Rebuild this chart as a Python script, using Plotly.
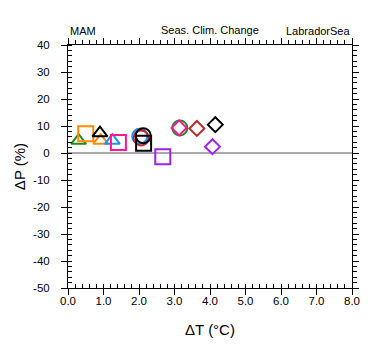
import plotly.graph_objects as go

# ---- data ----
green_x = [0.30, 3.15]
green_y = [4.6, 9.3]
green_sym = ["triangle-up-open", "circle-open"]

orange_x = [0.50, 0.92]
orange_y = [7.1, 4.6]
orange_sym = ["square-open", "triangle-up-open"]

blue_x = [1.25, 2.02]
blue_y = [4.6, 6.2]
blue_sym = ["triangle-up-open", "circle-open"]

red_x = [2.06, 3.63]
red_y = [5.6, 9.1]
red_sym = ["circle-open", "diamond-open"]

pink_x = [1.42, 3.13]
pink_y = [3.9, 9.3]
pink_sym = ["square-open", "diamond-open"]

purple_x = [2.67, 4.07]
purple_y = [-1.4, 2.35]
purple_sym = ["square-open", "diamond-open"]

black_x = [0.90, 2.12, 2.13, 4.15]
black_y = [7.4, 6.4, 3.6, 10.5]
black_sym = ["triangle-up-open", "circle-open", "square-open", "diamond-open"]

x_ticks = [0, 1, 2, 3, 4, 5, 6, 7, 8]
y_ticks = [-50, -40, -30, -20, -10, 0, 10, 20, 30, 40]

# ---- styles ----
sym_size = {"triangle-up-open": 13, "circle-open": 15, "square-open": 15, "diamond-open": 11.5}
FONT = "Liberation Sans, Arial, Helvetica, sans-serif"

series = [
    ("green", green_x, green_y, green_sym, "#228B22"),
    ("orange", orange_x, orange_y, orange_sym, "#FF8C00"),
    ("blue", blue_x, blue_y, blue_sym, "#1E90FF"),
    ("red", red_x, red_y, red_sym, "#C02828"),
    ("pink", pink_x, pink_y, pink_sym, "#FF1493"),
    ("purple", purple_x, purple_y, purple_sym, "#A020F0"),
    ("black", black_x, black_y, black_sym, "#000000"),
]

fig = go.Figure()
for name, xs, ys, syms, col in series:
    fig.add_trace(go.Scatter(
        x=xs, y=ys, mode="markers", name=name, showlegend=False, opacity=1,
        marker=dict(symbol=syms, size=[sym_size[s] for s in syms], opacity=1,
                    color=col, line=dict(color=col, width=2)),
        hoverinfo="skip",
    ))

# dummy traces so overlay axes are drawn
fig.add_trace(go.Scatter(x=[], y=[], xaxis="x2", yaxis="y2", showlegend=False))
fig.add_trace(go.Scatter(x=[], y=[], xaxis="x3", yaxis="y3", showlegend=False))

common_x = dict(range=[0, 8], showgrid=False, zeroline=False, automargin=False)
common_y = dict(range=[-50, 40], showgrid=False, automargin=False)

fig.update_layout(
    width=380, height=355,
    margin=dict(l=68, r=28, t=45, b=67, autoexpand=False),
    paper_bgcolor="white", plot_bgcolor="white",
    font=dict(family=FONT, size=11, color="black"),
    xaxis=dict(
        **common_x, tickmode="array", tickvals=x_ticks,
        ticktext=[f"{v:.1f}" for v in x_ticks],
        ticks="inside", ticklen=3, tickwidth=1, tickcolor="black",
        showline=True, linecolor="black", linewidth=1,
        minor=dict(ticks="inside", dtick=0.2, tick0=0, ticklen=4, tickcolor="black", showgrid=False),
        tickfont=dict(size=11.5), ticklabelstandoff=2,
        title=dict(text="ΔT (°C)", font=dict(size=15), standoff=18),
    ),
    xaxis2=dict(
        **common_x, overlaying="x", side="top", dtick=1, tick0=0,
        ticks="outside", ticklen=6, tickcolor="black", showticklabels=False,
        showline=True, linecolor="black", linewidth=1,
        minor=dict(ticks="outside", dtick=0.2, tick0=0, ticklen=4, tickcolor="black", showgrid=False),
    ),
    xaxis3=dict(
        **common_x, overlaying="x", side="bottom", dtick=1, tick0=0,
        ticks="outside", ticklen=6, tickcolor="black", showticklabels=False,
        showline=False,
    ),
    yaxis=dict(
        **common_y, tickmode="array", tickvals=y_ticks,
        ticktext=[str(v) for v in y_ticks],
        ticks="outside", ticklen=6, tickwidth=1, tickcolor="black",
        showline=True, linecolor="black", linewidth=1,
        zeroline=True, zerolinecolor="#AAAAAA", zerolinewidth=1.5,
        minor=dict(ticks="inside", dtick=2, tick0=0, ticklen=4, tickcolor="black", showgrid=False),
        tickfont=dict(size=11.5), ticklabelstandoff=9,
        title=dict(text="ΔP (%)", font=dict(size=15), standoff=3),
    ),
    yaxis2=dict(
        **common_y, overlaying="y", side="right", dtick=10, tick0=0, zeroline=False,
        ticks="outside", ticklen=6, tickcolor="black", showticklabels=False,
        showline=True, linecolor="black", linewidth=1,
        minor=dict(ticks="outside", dtick=2, tick0=0, ticklen=4, tickcolor="black", showgrid=False),
    ),
    yaxis3=dict(
        **common_y, overlaying="y", side="left", dtick=10, tick0=0, zeroline=False,
        ticks="inside", ticklen=3, tickcolor="black", showticklabels=False,
        showline=False,
    ),
    annotations=[
        dict(text="MAM", xref="paper", yref="paper", x=0, y=1, xanchor="left",
             yanchor="bottom", yshift=6, showarrow=False, font=dict(size=11)),
        dict(text="Seas. Clim. Change", xref="paper", yref="paper", x=0.5, y=1,
             xanchor="center", yanchor="bottom", yshift=7, showarrow=False, font=dict(size=11)),
        dict(text="LabradorSea", xref="paper", yref="paper", x=1, y=1, xanchor="right",
             yanchor="bottom", yshift=6, showarrow=False, font=dict(size=11)),
    ],
)

fig.write_html("out.html", config={"displayModeBar": False},
               post_script="document.body.style.margin='0';")
